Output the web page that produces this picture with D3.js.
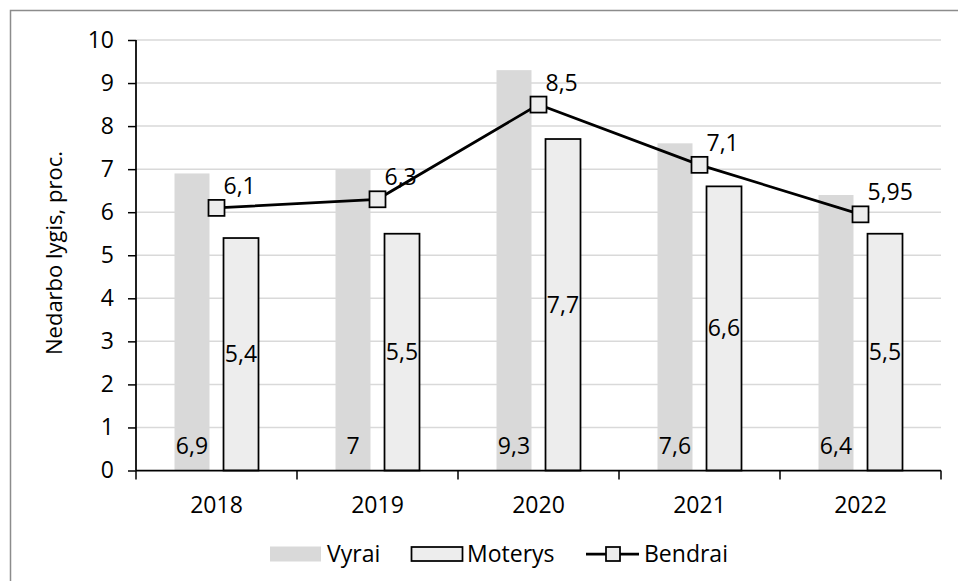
<!DOCTYPE html>
<html>
<head>
<meta charset="utf-8">
<script src="https://cdn.jsdelivr.net/npm/d3@7"></script>
<style>
    body { margin: 0; background: #fff; }
    text { font-family: "Open Sans", sans-serif; fill: #000; }
</style>
</head>
<body>
<div id="chart"></div>
<script>
// data
const years = ["2018", "2019", "2020", "2021", "2022"];
const vyrai = [6.9, 7, 9.3, 7.6, 6.4];
const moterys = [5.4, 5.5, 7.7, 6.6, 5.5];
const bendrai = [6.1, 6.3, 8.5, 7.1, 5.95];
const yTicks = [0, 1, 2, 3, 4, 5, 6, 7, 8, 9, 10];
const seriesNames = ["Vyrai", "Moterys", "Bendrai"];

const width = 958, height = 581;
const fontSize = 23;
const fmt = v => String(v).replace(".", ",");

const svg = d3.select("#chart")
    .append("svg")
    .attr("width", width)
    .attr("height", height);

// outer chart frame (cropped on right / bottom)
svg.append("rect")
    .attr("x", 10.5).attr("y", 10.5)
    .attr("width", 1200).attr("height", 1200)
    .attr("fill", "none")
    .attr("stroke", "#8c8c8c")
    .attr("stroke-width", 1.5);

const x = d3.scaleBand()
    .domain(years)
    .range([136, 941]);

const x1 = d3.scaleBand()
    .domain(seriesNames.slice(0, 2))
    .range([-42, 42])
    .paddingInner(0.286);

const y = d3.scaleLinear()
    .domain([0, 10])
    .range([470.5, 40]);

// gridlines
svg.append("g")
    .selectAll("line")
    .data(yTicks.filter(d => d > 0))
    .join("line")
    .attr("x1", x.range()[0])
    .attr("x2", x.range()[1])
    .attr("y1", d => y(d))
    .attr("y2", d => y(d))
    .attr("stroke", "#d9d9d9")
    .attr("stroke-width", 1.5);

// Vyrai bars
svg.append("g")
    .selectAll("rect")
    .data(vyrai)
    .join("rect")
    .attr("x", (d, i) => x(years[i]) + x.bandwidth() / 2 + x1("Vyrai"))
    .attr("y", d => y(d))
    .attr("width", x1.bandwidth())
    .attr("height", d => y(0) - y(d))
    .attr("fill", "#d9d9d9");

// Moterys bars
svg.append("g")
    .selectAll("rect")
    .data(moterys)
    .join("rect")
    .attr("x", (d, i) => x(years[i]) + x.bandwidth() / 2 + x1("Moterys"))
    .attr("y", d => y(d))
    .attr("width", x1.bandwidth())
    .attr("height", d => y(0) - y(d))
    .attr("fill", "#ededed")
    .attr("stroke", "#000")
    .attr("stroke-width", 1.75);

// axes
const yAxis = svg.append("g")
    .attr("transform", "translate(" + x.range()[0] + ",0)")
    .call(d3.axisLeft(y).tickValues(yTicks).tickSize(8).tickPadding(14));

const xAxis = svg.append("g")
    .attr("transform", "translate(0," + y(0) + ")")
    .call(d3.axisBottom(x).tickSize(0).tickPadding(26));

// category boundary ticks on x axis
xAxis.append("g")
    .selectAll("line")
    .data(d3.range(years.length + 1))
    .join("line")
    .attr("x1", i => x.range()[0] + i * x.step())
    .attr("x2", i => x.range()[0] + i * x.step())
    .attr("y1", 0)
    .attr("y2", 9)
    .attr("stroke", "#000")
    .attr("stroke-width", 1.5);

[yAxis, xAxis].forEach(ax => {
    ax.select(".domain").attr("stroke", "#000").attr("stroke-width", 1.75);
    ax.selectAll(".tick line").attr("stroke", "#000").attr("stroke-width", 1.5);
    ax.selectAll("text")
        .style("font-family", "Open Sans")
        .style("font-size", fontSize + "px")
        .attr("fill", "#000");
});
yAxis.select(".domain").attr("d", "M0," + y(10) + "V" + y(0));
xAxis.select(".domain").attr("d", "M" + x.range()[0] + ",0H" + x.range()[1]);

// y axis title
svg.append("text")
    .attr("transform", "translate(62,253) rotate(-90)")
    .attr("text-anchor", "middle")
    .style("font-size", "22px")
    .text("Nedarbo lygis, proc.");

// Bendrai line
const line = d3.line()
    .x((d, i) => x(years[i]) + x.bandwidth() / 2)
    .y(d => y(d));

svg.append("path")
    .datum(bendrai)
    .attr("d", line)
    .attr("fill", "none")
    .attr("stroke", "#000")
    .attr("stroke-width", 2.75);

const mk = 16;
svg.append("g")
    .selectAll("rect")
    .data(bendrai)
    .join("rect")
    .attr("x", (d, i) => x(years[i]) + x.bandwidth() / 2 - mk / 2)
    .attr("y", d => y(d) - mk / 2)
    .attr("width", mk)
    .attr("height", mk)
    .attr("fill", "#ededed")
    .attr("stroke", "#000")
    .attr("stroke-width", 1.75);

// data labels
svg.append("g")
    .selectAll("text")
    .data(vyrai)
    .join("text")
    .attr("x", (d, i) => x(years[i]) + x.bandwidth() / 2 + x1("Vyrai") + x1.bandwidth() / 2)
    .attr("y", y(0) - 17)
    .attr("text-anchor", "middle")
    .style("font-size", fontSize + "px")
    .text(d => fmt(d));

svg.append("g")
    .selectAll("text")
    .data(moterys)
    .join("text")
    .attr("x", (d, i) => x(years[i]) + x.bandwidth() / 2 + x1("Moterys") + x1.bandwidth() / 2)
    .attr("y", d => (y(d) + y(0)) / 2)
    .attr("dy", "0.35em")
    .attr("text-anchor", "middle")
    .style("font-size", fontSize + "px")
    .text(d => fmt(d));

svg.append("g")
    .selectAll("text")
    .data(bendrai)
    .join("text")
    .attr("x", (d, i) => x(years[i]) + x.bandwidth() / 2 + 7)
    .attr("y", d => y(d) - 14)
    .style("font-size", fontSize + "px")
    .text(d => fmt(d));

// legend
const legY = 554;
const leg = svg.append("g");
leg.append("rect")
    .attr("x", 270).attr("y", legY - 7.5)
    .attr("width", 51).attr("height", 15)
    .attr("fill", "#d9d9d9");
leg.append("text")
    .attr("x", 327).attr("y", legY).attr("dy", "0.35em")
    .style("font-size", fontSize + "px")
    .text(seriesNames[0]);

leg.append("rect")
    .attr("x", 411.5).attr("y", legY - 7)
    .attr("width", 51).attr("height", 14)
    .attr("fill", "#ededed")
    .attr("stroke", "#000")
    .attr("stroke-width", 1.75);
leg.append("text")
    .attr("x", 467).attr("y", legY).attr("dy", "0.35em")
    .style("font-size", fontSize + "px")
    .text(seriesNames[1]);

leg.append("line")
    .attr("x1", 586).attr("x2", 639)
    .attr("y1", legY).attr("y2", legY)
    .attr("stroke", "#000")
    .attr("stroke-width", 2.75);
leg.append("rect")
    .attr("x", 606).attr("y", legY - 7)
    .attr("width", 14).attr("height", 14)
    .attr("fill", "#ededed")
    .attr("stroke", "#000")
    .attr("stroke-width", 1.75);
leg.append("text")
    .attr("x", 644).attr("y", legY).attr("dy", "0.35em")
    .style("font-size", fontSize + "px")
    .text(seriesNames[2]);
</script>
</body>
</html>
